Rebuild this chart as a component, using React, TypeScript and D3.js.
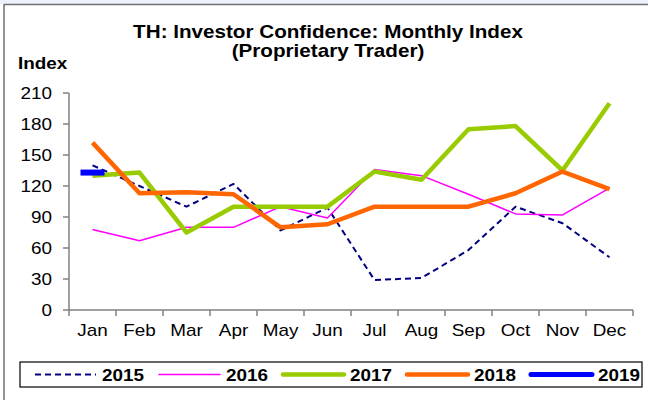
import React, { useEffect, useRef } from 'react';
import * as d3 from 'd3';

const months = ['Jan', 'Feb', 'Mar', 'Apr', 'May', 'Jun', 'Jul', 'Aug', 'Sep', 'Oct', 'Nov', 'Dec'];
const yTicks = [0, 30, 60, 90, 120, 150, 180, 210];

const s2015 = [140, 120, 100, 122, 77, 99, 29, 31, 58, 100, 84, 51];
const s2016 = [78, 67, 80, 80, 100, 89, 136, 130, 112, 93, 92, 118];
const s2017 = [130, 133, 75, 100, 100, 100, 134, 126, 175, 178, 135, 200];
const s2018 = [162, 113, 114, 112, 80, 83, 100, 100, 100, 113, 134, 117];
const s2019 = [133];

const seriesNames = ['2015', '2016', '2017', '2018', '2019'];

const width = 648;
const height = 400;
const font = 'Arial, "Liberation Sans", sans-serif';
const stretch = 1.18; // source picture is stretched sideways

function App() {
  const ref = useRef<SVGSVGElement>(null);

  useEffect(() => {
    drawChart();
  }, []);

  function drawChart() {
    const svg = d3.select(ref.current);
    svg.selectAll('*').remove();

    const x = d3.scaleBand<string>().domain(months).range([69, 633]);
    const y = d3.scaleLinear().domain([0, 210]).range([310, 93]);

    const styles = [
      { color: '#000080', w: 2, dash: '6,4' },
      { color: '#ff00ff', w: 1.5, dash: null },
      { color: '#99cc00', w: 4.5, dash: null },
      { color: '#ff6600', w: 4.5, dash: null },
      { color: '#0000ff', w: 5, dash: null },
    ];
    const allSeries = [s2015, s2016, s2017, s2018, s2019];

    const label = (g: any, tx: number, ty: number, str: string, anchor: string, bold: boolean, size = 16) =>
      g.append('text')
        .attr('transform', `translate(${tx},${ty}) scale(${stretch},1)`)
        .attr('text-anchor', anchor)
        .attr('font-family', font)
        .attr('font-size', size)
        .attr('font-weight', bold ? 'bold' : 'normal')
        .attr('fill', '#000')
        .text(str);

    // frame
    svg.append('rect').attr('x', 0).attr('y', 0).attr('width', width).attr('height', 4).attr('fill', '#eef0fa');
    svg.append('line').attr('x1', 4).attr('x2', width).attr('y1', 4.5).attr('y2', 4.5)
      .attr('stroke', '#707070').attr('stroke-width', 1.5);
    svg.append('line').attr('x1', 4).attr('x2', 4).attr('y1', 4).attr('y2', height)
      .attr('stroke', '#707070').attr('stroke-width', 1.5);

    // title
    label(svg, 328, 38, 'TH: Investor Confidence: Monthly Index', 'middle', true, 17.5);
    label(svg, 328, 57, '(Proprietary Trader)', 'middle', true, 17.5);
    label(svg, 18, 69, 'Index', 'start', true);

    // y axis
    const axisColor = '#808080';
    svg.append('line').attr('x1', 69).attr('x2', 69).attr('y1', y(210)).attr('y2', y(0))
      .attr('stroke', axisColor).attr('stroke-width', 1.5);
    yTicks.forEach((t) => {
      svg.append('line').attr('x1', 63).attr('x2', 69).attr('y1', y(t)).attr('y2', y(t))
        .attr('stroke', axisColor).attr('stroke-width', 1.5);
      label(svg, 52, y(t) + 6, String(t), 'end', false);
    });

    // x axis
    svg.append('line').attr('x1', 69).attr('x2', 633).attr('y1', y(0)).attr('y2', y(0))
      .attr('stroke', axisColor).attr('stroke-width', 1.5);
    const edges = months.map((m) => x(m)!).concat([x.range()[1]]);
    edges.forEach((e) => {
      svg.append('line').attr('x1', e).attr('x2', e).attr('y1', y(0)).attr('y2', y(0) + 6)
        .attr('stroke', axisColor).attr('stroke-width', 1.5);
    });
    months.forEach((m) => {
      label(svg, x(m)! + x.bandwidth() / 2, 336, m, 'middle', false);
    });

    // series
    const line = d3.line<number>()
      .x((_, i) => x(months[i])! + x.bandwidth() / 2)
      .y((d) => y(d));

    allSeries.forEach((data, k) => {
      const st = styles[k];
      if (data.length > 1) {
        svg.append('path')
          .attr('d', line(data))
          .attr('fill', 'none')
          .attr('stroke', st.color)
          .attr('stroke-width', st.w)
          .attr('stroke-dasharray', st.dash)
          .attr('stroke-linejoin', 'round');
      } else {
        // single point: drawn as a dash marker
        const cx = x(months[0])! + x.bandwidth() / 2;
        svg.append('rect')
          .attr('x', cx - 12).attr('y', y(data[0]) - 3)
          .attr('width', 24).attr('height', 6)
          .attr('fill', st.color);
      }
    });

    // legend
    svg.append('rect').attr('x', 20).attr('y', 362).attr('width', 622).attr('height', 25)
      .attr('fill', '#fff').attr('stroke', '#000').attr('stroke-width', 1.2);
    seriesNames.forEach((name, k) => {
      const st = styles[k];
      const lx = 35 + k * 124;
      svg.append('line').attr('x1', lx).attr('x2', lx + 61).attr('y1', 374.5).attr('y2', 374.5)
        .attr('stroke', st.color)
        .attr('stroke-width', st.w)
        .attr('stroke-dasharray', st.dash)
        .attr('stroke-linecap', st.dash ? 'butt' : 'round');
      label(svg, lx + 67, 380.5, name, 'start', true);
    });
  }

  return (
    <svg
      ref={ref}
      width={width}
      height={height}
      style={{ position: 'absolute', left: 0, top: 0, background: '#fff' }}
    />
  );
}

export default App;
